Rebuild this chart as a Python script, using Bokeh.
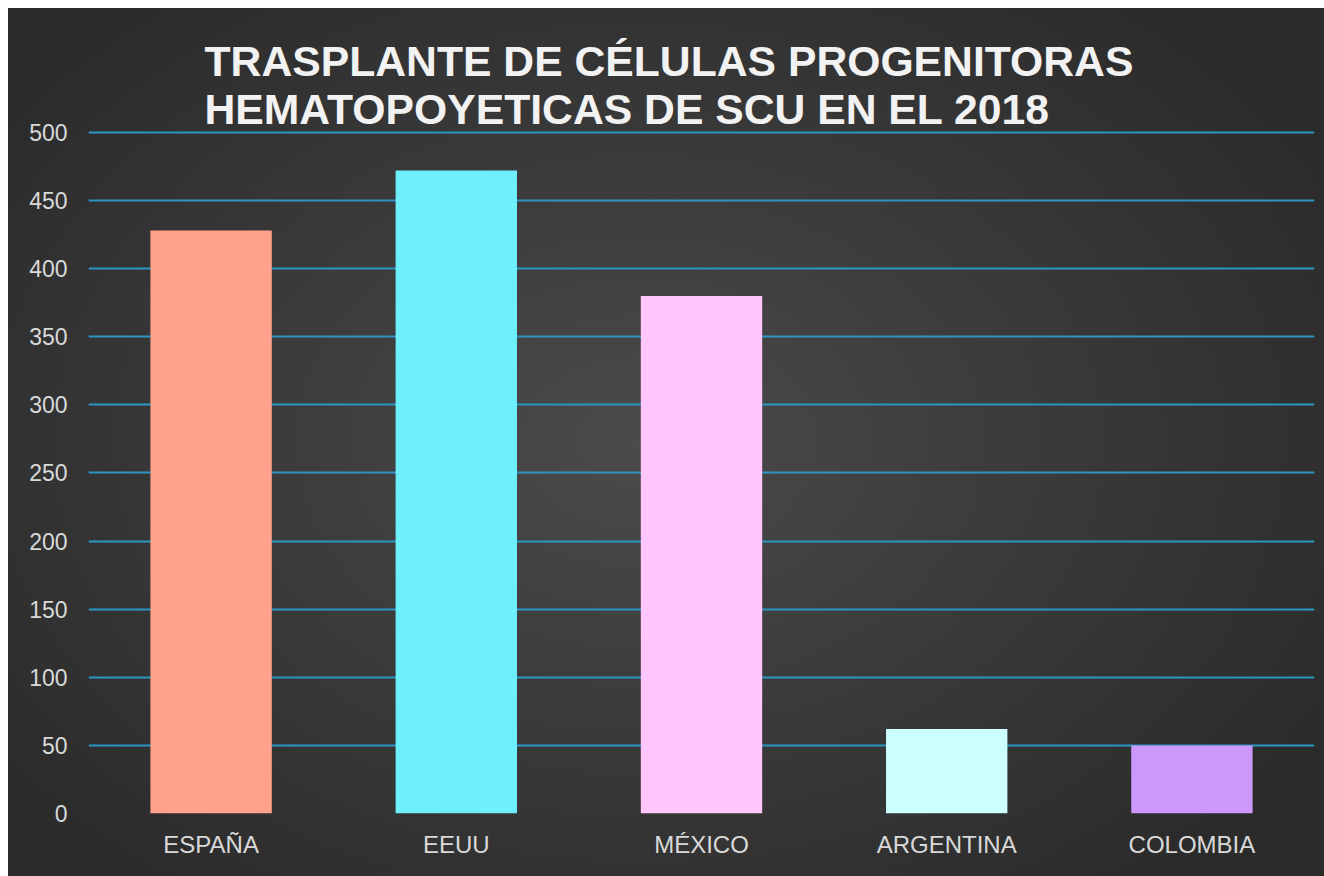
from bokeh.plotting import figure
from bokeh.models import Range1d, FactorRange, FixedTicker, Label, ColumnDataSource
from bokeh.embed import file_html
from bokeh.resources import INLINE

countries = ["ESPAÑA", "EEUU", "MÉXICO", "ARGENTINA", "COLOMBIA"]
values = [428, 472, 380, 62, 50]
colors = ["#FFA28C", "#6EF0FC", "#FFC6FC", "#CCFEFE", "#CC98FC"]
y_ticks = [0, 50, 100, 150, 200, 250, 300, 350, 400, 450, 500]
title_lines = ["TRASPLANTE DE CÉLULAS PROGENITORAS", "HEMATOPOYETICAS DE SCU EN EL 2018"]

FONT = "Liberation Sans"

src = ColumnDataSource(dict(x=countries, top=values, color=colors))

p = figure(width=1316, height=868, x_range=FactorRange(*countries, range_padding=0),
           y_range=Range1d(0, 591), output_backend="svg", toolbar_location=None,
           min_border_left=80, min_border_right=10, min_border_top=0, min_border_bottom=63)

p.background_fill_alpha = 0
p.border_fill_alpha = 0
p.outline_line_color = None
p.styles = {
    "background": "radial-gradient(ellipse 60% 65% at 48% 50%, #4b4b4b 0%, #3c3c3c 45%, #2b2b2b 100%)",
    "margin-left": "8px",
    "margin-top": "8px",
}

p.vbar(x="x", top="top", width=0.495, color="color", source=src, line_color=None)

p.xgrid.grid_line_color = None
p.ygrid.ticker = FixedTicker(ticks=y_ticks[1:])
p.ygrid.grid_line_color = "#2C95C8"
p.ygrid.grid_line_width = 2

p.yaxis.ticker = FixedTicker(ticks=y_ticks)
for ax in (p.xaxis[0], p.yaxis[0]):
    ax.axis_line_color = None
    ax.major_tick_line_color = None
    ax.minor_tick_line_color = None
    ax.major_label_text_color = "#D9D9D9"
    ax.major_label_text_font = FONT
    ax.major_label_text_font_size = "23px"
p.xaxis.major_label_text_font_size = "24px"
p.yaxis.major_label_standoff = 15
p.xaxis.major_label_standoff = 11

for i, line in enumerate(title_lines):
    p.add_layout(Label(x=116, y=753 - 48 * i, x_units="screen", y_units="screen",
                       text=line, text_font=FONT, text_font_style="bold",
                       text_font_size="42.7px", text_color="#F2F2F2",
                       text_baseline="alphabetic", text_align="left"))

open("out.html", "w").write(file_html(p, INLINE))
